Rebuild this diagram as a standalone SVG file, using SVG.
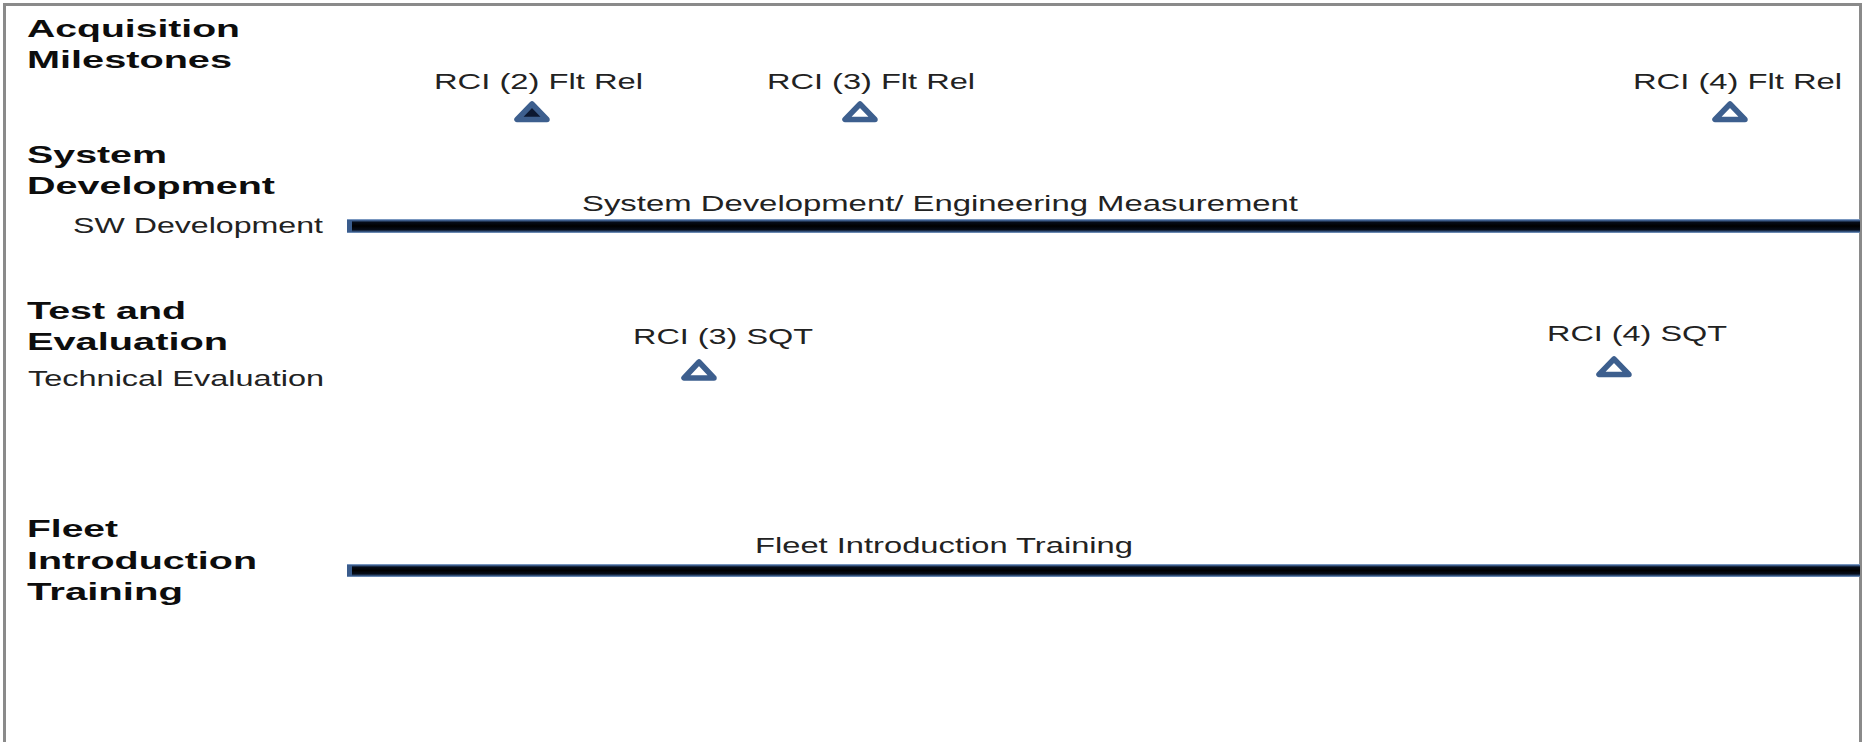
<svg xmlns="http://www.w3.org/2000/svg" width="1868" height="742" viewBox="0 0 1868 742">
  <defs>
    <linearGradient id="barGrad" x1="0" y1="0" x2="0" y2="1">
      <stop offset="0" stop-color="#9ab6da"/>
      <stop offset="0.1" stop-color="#3f6090"/>
      <stop offset="0.24" stop-color="#060c18"/>
      <stop offset="0.5" stop-color="#000000"/>
      <stop offset="0.76" stop-color="#060c18"/>
      <stop offset="0.9" stop-color="#34547f"/>
      <stop offset="1" stop-color="#86a4cc"/>
    </linearGradient>
  </defs>
  <style>
    .frame { fill: #ffffff; stroke: #8a8a8a; stroke-width: 3; }
    .head { font-family: "Liberation Sans", Arial, sans-serif; font-weight: bold; font-size: 23.5px; fill: #0d0d0d; }
    .lbl { font-family: "Liberation Sans", Arial, sans-serif; font-size: 22px; fill: #222222; }
    .sub { font-family: "Liberation Sans", Arial, sans-serif; font-size: 21.5px; fill: #222222; }
    .tri { fill: #ffffff; stroke: #3d5f8e; stroke-width: 5.5; stroke-linejoin: round; }
    .tri-done { fill: #0c1830; stroke: #3d5f8e; stroke-width: 5.5; stroke-linejoin: round; }
    .bar { fill: url(#barGrad); }
    .barcap { fill: #3a5c8c; }
  </style>

  <rect class="frame" x="4.5" y="4.5" width="1856" height="760"/>

  <g id="row-acquisition-milestones">
    <text class="head" x="27" y="37" textLength="213" lengthAdjust="spacingAndGlyphs">Acquisition</text>
    <text class="head" x="27" y="68" textLength="205" lengthAdjust="spacingAndGlyphs">Milestones</text>
  </g>

  <g id="milestone-rci2-flt-rel">
    <text class="lbl" x="434" y="89" textLength="209" lengthAdjust="spacingAndGlyphs">RCI (2) Flt Rel</text>
    <polygon class="tri-done" points="532,104 517,119.5 547,119.5"/>
  </g>

  <g id="milestone-rci3-flt-rel">
    <text class="lbl" x="767" y="89" textLength="208" lengthAdjust="spacingAndGlyphs">RCI (3) Flt Rel</text>
    <polygon class="tri" points="860,104 845,119.5 875,119.5"/>
  </g>

  <g id="milestone-rci4-flt-rel">
    <text class="lbl" x="1633" y="89" textLength="209" lengthAdjust="spacingAndGlyphs">RCI (4) Flt Rel</text>
    <polygon class="tri" points="1730,104 1715,119.5 1745,119.5"/>
  </g>

  <g id="row-system-development">
    <text class="head" x="27" y="163" textLength="140" lengthAdjust="spacingAndGlyphs">System</text>
    <text class="head" x="27" y="194" textLength="248" lengthAdjust="spacingAndGlyphs">Development</text>
    <text class="sub" x="73" y="233" textLength="250" lengthAdjust="spacingAndGlyphs">SW Development</text>
  </g>

  <g id="bar-system-development">
    <text class="lbl" x="582" y="211" textLength="716" lengthAdjust="spacingAndGlyphs">System Development/ Engineering Measurement</text>
  </g>

  <g id="row-test-evaluation">
    <text class="head" x="27" y="319" textLength="159" lengthAdjust="spacingAndGlyphs">Test and</text>
    <text class="head" x="27" y="350" textLength="201" lengthAdjust="spacingAndGlyphs">Evaluation</text>
    <text class="sub" x="28" y="386" textLength="296" lengthAdjust="spacingAndGlyphs">Technical Evaluation</text>
  </g>

  <g id="milestone-rci3-sqt">
    <text class="lbl" x="633" y="344" textLength="180" lengthAdjust="spacingAndGlyphs">RCI (3) SQT</text>
    <polygon class="tri" points="699,362 684,378 714,378"/>
  </g>

  <g id="milestone-rci4-sqt">
    <text class="lbl" x="1547" y="341" textLength="180" lengthAdjust="spacingAndGlyphs">RCI (4) SQT</text>
    <polygon class="tri" points="1614,359 1599,374.5 1629,374.5"/>
  </g>

  <g id="row-fleet-introduction-training">
    <text class="head" x="27" y="537" textLength="91" lengthAdjust="spacingAndGlyphs">Fleet</text>
    <text class="head" x="27" y="569" textLength="230" lengthAdjust="spacingAndGlyphs">Introduction</text>
    <text class="head" x="27" y="600" textLength="156" lengthAdjust="spacingAndGlyphs">Training</text>
  </g>

  <g id="bar-fleet-introduction-training">
    <text class="sub" x="755" y="553" textLength="378" lengthAdjust="spacingAndGlyphs">Fleet Introduction Training</text>
  </g>

  <g id="connectors">
    <rect class="bar" x="347" y="219" width="1513" height="14"/>
    <rect class="barcap" x="347" y="220" width="5" height="12"/>
    <rect class="bar" x="347" y="564" width="1513" height="13"/>
    <rect class="barcap" x="347" y="565" width="5" height="11"/>
  </g>
</svg>
